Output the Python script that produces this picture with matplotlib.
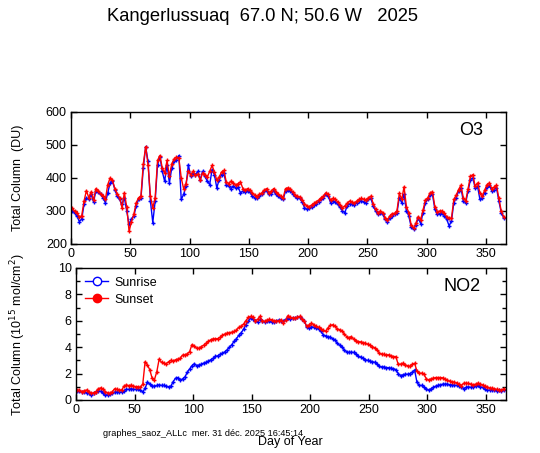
import matplotlib
matplotlib.use("Agg")
import matplotlib.pyplot as plt
import numpy as np
from matplotlib.lines import Line2D

plt.rcParams["font.family"] = ["Liberation Sans", "DejaVu Sans"]

# day of year, every second day
days = np.arange(1, 366, 2)

o3_sunrise = [
    300, 295, 285, 268, 275, 320, 340, 335, 350, 328,
    360, 358, 350, 340, 325, 355, 385, 390, 365, 345,
    335, 320, 340, 300, 260, 275, 285, 315, 335, 338,
    430, 495, 450, 330, 265, 330, 440, 465, 420, 390,
    440, 385, 430, 450, 455, 468, 335, 350, 375, 440,
    405, 415, 410, 420, 395, 420, 405, 390, 380, 425,
    410, 370, 395, 410, 415, 380, 375, 368, 375, 370,
    372, 355, 360, 358, 362, 358, 345, 340, 338, 345,
    350, 360, 362, 350, 352, 362, 350, 345, 338, 335,
    360, 365, 362, 352, 345, 340, 338, 328, 310, 305,
    308, 312, 318, 322, 328, 335, 340, 350, 345, 325,
    330, 328, 320, 312, 300, 295, 315, 322, 320, 318,
    325, 330, 330, 328, 325, 335, 338, 315, 300, 290,
    295, 290, 275, 268, 278, 285, 290, 295, 340, 325,
    350, 300, 285, 252, 245, 258, 278, 262, 295, 325,
    335, 348, 350, 305, 290, 292, 295, 285, 275, 255,
    270, 325, 340, 360, 370, 330, 325, 360, 395, 400,
    370, 375, 335, 340, 355, 372, 378, 362, 365, 370,
    330, 295, 280,
]
o3_sunset = [
    308, 300, 293, 283, 285, 330, 362, 340, 358, 333,
    368, 362, 352, 345, 335, 380, 400, 393, 368, 352,
    340, 310, 355, 313, 238, 268, 290, 325, 340, 345,
    443, 495, 440, 345, 310, 340, 453, 468, 430, 415,
    453, 405, 443, 458, 463, 460, 400, 368, 383, 420,
    410, 420, 408, 412, 393, 415, 410, 403, 420, 438,
    418, 393, 403, 418, 423, 388, 383, 390, 385, 378,
    383, 388, 368, 363, 368, 363, 355, 348, 343, 350,
    355, 363, 368, 353, 360, 368, 358, 350, 345, 340,
    368, 370, 368, 358, 348, 345, 342, 333, 322, 315,
    313, 318, 323, 328, 333, 340, 345, 355, 350, 333,
    338, 335, 328, 318, 310, 315, 323, 330, 328, 323,
    330, 335, 338, 335, 333, 340, 345, 322, 305, 293,
    300, 295, 280, 273, 285, 292, 293, 300, 353, 335,
    373, 313, 295, 258, 248, 263, 283, 273, 303, 333,
    340, 355, 358, 313, 298, 300, 300, 293, 283, 278,
    278, 335, 348, 365, 378, 340, 330, 368, 405, 410,
    375, 385, 355, 345, 363, 380, 385, 368, 372, 378,
    338, 300, 283,
]

no2_sunrise = [
    0.70, 0.65, 0.60, 0.60, 0.55, 0.50, 0.40, 0.50, 0.60, 0.70,
    0.65, 0.55, 0.40, 0.38, 0.45, 0.50, 0.60, 0.60, 0.58, 0.60,
    0.70, 0.80, 0.80, 0.85, 0.80, 0.80, 0.80, 0.75, 0.60, 0.90,
    1.35, 1.20, 1.05, 1.05, 1.10, 1.15, 1.10, 1.10, 1.05, 1.00,
    1.05, 1.40, 1.65, 1.70, 1.50, 1.60, 1.75, 2.10, 2.35, 2.60,
    2.75, 2.60, 2.65, 2.70, 2.80, 2.85, 2.95, 3.05, 3.15, 3.30,
    3.35, 3.45, 3.55, 3.65, 3.80, 4.00, 4.20, 4.45, 4.65, 4.90,
    5.10, 5.35, 5.70, 5.95, 6.20, 6.10, 6.00, 5.90, 6.10, 6.00,
    5.90, 5.95, 5.95, 5.90, 5.90, 6.00, 6.05, 5.95, 6.00, 6.10,
    6.20, 6.15, 6.20, 6.20, 6.25, 6.30, 6.15, 6.00, 5.50, 5.45,
    5.55, 5.50, 5.45, 5.40, 5.20, 4.95, 4.85, 4.80, 4.75, 4.65,
    4.55, 4.30, 4.15, 4.00, 3.80, 3.65, 3.60, 3.62, 3.60, 3.45,
    3.30, 3.25, 3.15, 3.05, 3.00, 2.95, 2.90, 2.85, 2.70, 2.55,
    2.50, 2.50, 2.45, 2.45, 2.40, 2.38, 2.30, 2.00, 1.85, 1.90,
    1.95, 1.95, 2.00, 2.10, 2.28, 1.35, 1.10, 1.10, 0.95, 0.85,
    0.75, 0.85, 0.95, 1.05, 1.10, 1.15, 1.20, 1.20, 1.20, 1.15,
    1.15, 1.10, 1.10, 1.05, 1.00, 0.85, 0.95, 1.00, 0.95, 1.00,
    1.05, 1.10, 1.00, 0.95, 0.80, 0.72, 0.75, 0.78, 0.75, 0.70,
    0.72, 0.70, 0.78,
]
no2_sunset = [
    0.76, 0.72, 0.63, 0.70, 0.76, 0.63, 0.50, 0.55, 0.63, 0.85,
    0.92, 0.80, 0.63, 0.55, 0.50, 0.63, 0.85, 0.80, 0.76, 0.76,
    1.05, 1.14, 1.09, 1.12, 1.05, 1.01, 1.01, 0.95, 1.20, 2.90,
    2.66, 2.28, 1.65, 1.55, 2.15, 3.10, 2.85, 2.78, 2.75, 2.90,
    3.00, 2.96, 3.05, 3.10, 3.16, 3.40, 3.42, 3.50, 3.67, 4.20,
    4.10, 3.92, 3.92, 4.05, 4.15, 4.30, 4.45, 4.56, 4.63, 4.63,
    4.65, 4.75, 4.90, 5.00, 5.06, 5.10, 5.14, 5.19, 5.30, 5.50,
    5.60, 5.75, 6.00, 6.25, 6.33, 6.25, 6.00, 6.10, 6.33, 6.00,
    5.95, 6.05, 6.10, 6.08, 6.00, 5.95, 6.00, 6.08, 5.85, 6.05,
    6.40, 6.25, 6.20, 6.20, 6.25, 6.33, 6.10, 5.95, 5.57, 5.70,
    5.82, 5.70, 5.57, 5.50, 5.40, 5.30, 5.19, 5.45, 5.65, 5.70,
    5.57, 5.40, 5.32, 5.25, 5.00, 4.80, 4.72, 4.81, 4.60, 4.50,
    4.43, 4.40, 4.35, 4.30, 4.22, 4.15, 4.05, 3.95, 3.80, 3.55,
    3.47, 3.45, 3.42, 3.42, 3.35, 3.29, 3.29, 2.70, 2.72, 2.78,
    2.66, 2.60, 2.55, 2.70, 2.78, 2.20, 2.03, 2.03, 1.95, 1.60,
    1.52, 1.60, 1.65, 1.70, 1.70, 1.70, 1.68, 1.60, 1.50, 1.42,
    1.39, 1.34, 1.30, 1.20, 1.09, 1.27, 1.27, 1.25, 1.19, 1.15,
    1.20, 1.27, 1.20, 1.14, 1.05, 1.00, 0.90, 0.89, 0.86, 0.80,
    0.76, 0.76, 0.85,
]

title = "Kangerlussuaq  67.0 N; 50.6 W   2025"
footnote = "graphes_saoz_ALLc  mer. 31 déc. 2025 16:45:14"

blue = "#0000ff"
red = "#ff0000"

fig = plt.figure(figsize=(5.4, 4.53), dpi=100)
ax1 = fig.add_axes([0.1315, 0.4614, 0.8055, 0.2914])
ax2 = fig.add_axes([0.1407, 0.1170, 0.7963, 0.2914])

for ax, rise, sset in ((ax1, o3_sunrise, o3_sunset), (ax2, no2_sunrise, no2_sunset)):
    ax.plot(days, rise, color=blue, lw=1, marker="+", ms=3.5, mew=1)
    ax.plot(days, sset, color=red, lw=1, marker="+", ms=3.5, mew=1)
    ax.set_xlim(0, 367)
    ax.set_xticks([0, 50, 100, 150, 200, 250, 300, 350])
    ax.tick_params(direction="in", top=True, right=True, length=4, width=1,
                   labelsize=9, pad=3)
    ax.tick_params(which="minor", direction="in", right=True, length=3, width=1)
    for s in ax.spines.values():
        s.set_linewidth(1)

ax1.set_ylim(200, 600)
ax1.set_yticks([200, 300, 400, 500, 600])
ax1.text(0.947, 0.86, "O3", transform=ax1.transAxes, fontsize=13, ha="right", va="center")

ax2.set_ylim(0, 10)
ax2.set_yticks([0, 2, 4, 6, 8, 10])
ax2.set_yticks([1, 3, 5, 7, 9], minor=True)
ax2.text(0.942, 0.86, "NO2", transform=ax2.transAxes, fontsize=13, ha="right", va="center")

handles = [
    Line2D([], [], color=blue, lw=1, marker="o", ms=6, mfc="white", mec=blue),
    Line2D([], [], color=red, lw=1, marker="o", ms=6, mfc=red, mec=red),
]
ax2.legend(handles, ["Sunrise", "Sunset"], loc="upper left", frameon=False,
           fontsize=9, handlelength=1.9, borderaxespad=0.3, labelspacing=0.4,
           handletextpad=0.5)

fig.text(0.4852, 0.964, title, ha="center", va="center", fontsize=13.2)
fig.text(0.033, 0.6068, "Total Column  (DU)", rotation=90, ha="center", va="center", fontsize=9)
fig.text(0.033, 0.262, "Total Column (10$^{15}$ mol/cm$^{2}$)", rotation=90,
         ha="center", va="center", fontsize=9)
fig.text(0.537, 0.024, "Day of Year", ha="center", va="center", fontsize=9)
fig.text(0.19, 0.044, footnote, ha="left", va="center", fontsize=6.6)

fig.savefig("out.png", dpi=100)
